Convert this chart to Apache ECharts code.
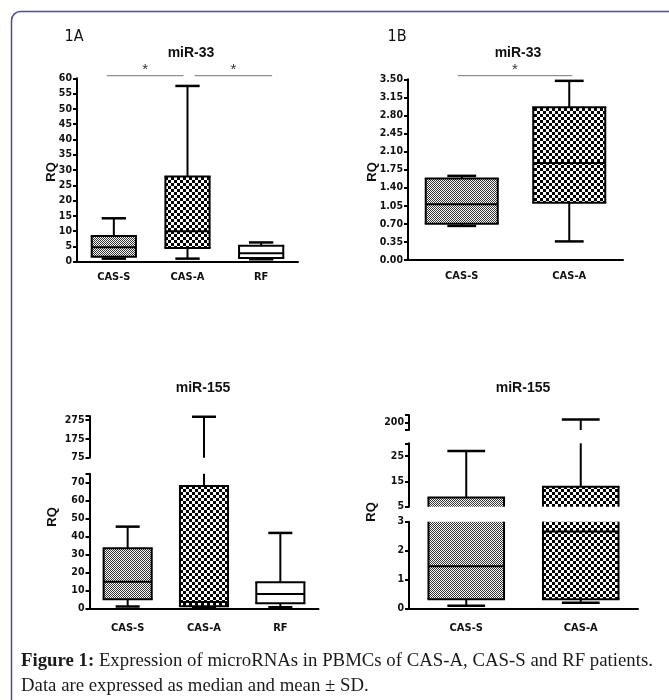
<!DOCTYPE html>
<html><head><meta charset="utf-8">
<script src="https://cdn.jsdelivr.net/npm/echarts@6/dist/echarts.min.js"></script>
<style>html,body{margin:0;padding:0;background:#fff}#c{width:669px;height:700px}</style>
</head><body><div id="c"></div>
<script>
// ---------- data ----------
const cats3 = ['CAS-S', 'CAS-A', 'RF'];
const cats2 = ['CAS-S', 'CAS-A'];
// each box: [lower whisker, Q1, median, Q3, upper whisker]
const mir33A  = [[1.0, 1.6, 4.7, 8.4, 14.2], [1.0, 4.5, 10.0, 27.9, 57.5], [0.8, 1.2, 2.8, 5.2, 6.3]];
const mir33B  = [[0.66, 0.70, 1.08, 1.58, 1.63], [0.36, 1.11, 1.88, 2.96, 3.47]];
const mir155A = [[1.0, 5.0, 14.8, 33.4, 45.5], [0.5, 1.2, 3.5, 68.2, 292], [0.6, 2.8, 8.0, 14.5, 42.0]];
const mir155B = [[0.09, 0.31, 1.46, 8.6, 27.0], [0.19, 0.31, 2.66, 12.9, 204]];
// significance bars: [category a, category b, bar level]
const sig33A = [[0, 1, 60.85], [1, 2, 60.85]];
const sig33B = [[0, 1, 3.57]];
// axis ticks / ranges
const ticks33A = [0, 5, 10, 15, 20, 25, 30, 35, 40, 45, 50, 55, 60];
const ticks33B = [0, 0.35, 0.70, 1.05, 1.40, 1.75, 2.10, 2.45, 2.80, 3.15, 3.50];
const ticks155A_low = [0, 10, 20, 30, 40, 50, 60, 70];
const ticks155A_high = [75, 175, 275];
const ticks155B_low = [0, 1, 2, 3];
const ticks155B_mid = [5, 15, 25];
const ticks155B_high = [200];
const range155A_low = [0, 75], range155A_high = [75, 296];
const range155B_low = [0, 3], range155B_mid = [5, 30], range155B_high = [190, 210];

// ---------- styles ----------
function makePattern(size, cell, dark) {
  const c = document.createElement('canvas');
  c.width = size; c.height = size;
  const g = c.getContext('2d');
  g.fillStyle = '#fff'; g.fillRect(0, 0, size, size);
  g.fillStyle = dark;
  g.fillRect(0, 0, cell, cell);
  g.fillRect(cell, cell, cell, cell);
  return { image: c, repeat: 'repeat' };
}
const fills = [makePattern(2, 1, '#333'), makePattern(6, 3, '#000'), '#fff'];
const NARROW = "'Liberation Sans Narrow','Arial Narrow','DejaVu Sans Condensed',sans-serif";
const SANS = "'Liberation Sans',Arial,sans-serif";
const SERIF = "'Liberation Serif','Times New Roman',serif";

function boxRenderer(range, boxRatio, capRatio) {
  const smin = range[0], smax = range[1];
  return function (params, api) {
    const cat = api.value(0);
    const lo = api.value(1), q1 = api.value(2), md = api.value(3), q3 = api.value(4), hi = api.value(5);
    const cl = v => Math.max(smin, Math.min(smax, v));
    const cx = api.coord([cat, smin])[0];
    const Y = v => api.coord([cat, v])[1];
    const band = api.size([1, 0])[0];
    const bw = band * boxRatio, cw = bw * capRatio;
    const ln = (x1, y1, x2, y2, w) => ({ type: 'line', shape: { x1, y1, x2, y2 }, style: { stroke: '#000', lineWidth: w || 2 } });
    const ch = [];
    if (hi > smin && q3 < smax) {
      ch.push(ln(cx, Y(cl(q3)), cx, Y(cl(hi))));
      if (hi <= smax) ch.push(ln(cx - cw / 2, Y(hi), cx + cw / 2, Y(hi), 2.5));
    }
    if (lo < smax && q1 > smin) {
      ch.push(ln(cx, Y(cl(q1)), cx, Y(cl(lo))));
      if (lo >= smin) ch.push(ln(cx - cw / 2, Y(lo), cx + cw / 2, Y(lo), 2.5));
    }
    if (q3 > smin && q1 < smax) {
      const yb = Y(cl(q1)), yt = Y(cl(q3));
      const x0 = cx - bw / 2, x1 = cx + bw / 2;
      ch.push({ type: 'rect', shape: { x: x0, y: yt, width: bw, height: yb - yt }, style: { fill: fills[cat] } });
      ch.push(ln(x0, yb, x0, yt));
      ch.push(ln(x1, yb, x1, yt));
      if (q3 <= smax) ch.push(ln(x0 - 1, yt, x1 + 1, yt));
      if (q1 >= smin) ch.push(ln(x0 - 1, yb, x1 + 1, yb));
    }
    if (md >= smin && md <= smax) ch.push(ln(cx - bw / 2, Y(md), cx + bw / 2, Y(md)));
    return { type: 'group', children: ch };
  };
}

function sigRenderer(insets) {
  return function (params, api) {
    const a = api.value(0), b = api.value(1), lv = api.value(2);
    const ins = insets[params.dataIndex];
    const p1 = api.coord([a, lv]), p2 = api.coord([b, lv]);
    const x1 = p1[0] + ins[0], x2 = p2[0] + ins[1];
    return { type: 'group', children: [
      { type: 'line', shape: { x1, y1: p1[1], x2, y2: p1[1] }, style: { stroke: '#777', lineWidth: 1 } },
      { type: 'text', x: (x1 + x2) / 2, y: p1[1] - 6,
        style: { text: '*', fill: '#333', font: '15px ' + SANS, align: 'center', verticalAlign: 'middle', textAlign: 'center', textVerticalAlign: 'middle' } }
    ] };
  };
}

const grids = [
  { left: 77, top: 78.3, width: 221, height: 183.4 },
  { left: 408, top: 79.3, width: 215, height: 180.7 },
  { left: 89.5, top: 416, width: 229, height: 41.7 },
  { left: 89.5, top: 473.7, width: 229, height: 134.6 },
  { left: 409, top: 415, width: 229, height: 15 },
  { left: 409, top: 443.3, width: 229, height: 63.4 },
  { left: 409, top: 521.7, width: 229, height: 86.6 }
];

const labelStyle = { color: '#111', fontFamily: NARROW, fontWeight: 'bold', fontSize: 11 };
function xAx(i, cats, show, margin) {
  return { gridIndex: i, type: 'category', data: cats, show: show,
    axisLine: { lineStyle: { color: '#000', width: 2 } }, axisTick: { show: false },
    axisLabel: Object.assign({ margin: margin }, labelStyle) };
}
function yAx(i, range, ticks, capTicks, fmt) {
  return { gridIndex: i, type: 'value', min: range[0], max: range[1],
    axisLine: { show: true, lineStyle: { color: '#000', width: 2 } },
    axisTick: { show: true, length: 4, lineStyle: { color: '#000', width: 2 }, customValues: ticks.concat(capTicks || []) },
    axisLabel: Object.assign({ margin: 5, customValues: ticks, formatter: fmt || (v => String(v)) }, labelStyle, { fontSize: 10.5 }),
    splitLine: { show: false } };
}

const xAxis = [
  xAx(0, cats3, true, 10), xAx(1, cats2, true, 11),
  xAx(2, cats3, false, 0), xAx(3, cats3, true, 14),
  xAx(4, cats2, false, 0), xAx(5, cats2, false, 0), xAx(6, cats2, true, 14)
];
const yAxis = [
  yAx(0, [0, 60], ticks33A),
  yAx(1, [0, 3.5], ticks33B, [], v => v.toFixed(2)),
  yAx(2, range155A_high, ticks155A_high, [range155A_high[1]]),
  yAx(3, range155A_low, ticks155A_low, [range155A_low[1]]),
  yAx(4, range155B_high, ticks155B_high, range155B_high),
  yAx(5, range155B_mid, ticks155B_mid, [range155B_mid[1]]),
  yAx(6, range155B_low, ticks155B_low)
];

function boxSeries(i, data, range, boxRatio, capRatio) {
  return { type: 'custom', xAxisIndex: i, yAxisIndex: i, silent: true, clip: false,
    data: data.map((d, k) => [k].concat(d)), encode: { x: 0, y: [1, 2, 3, 4, 5] },
    renderItem: boxRenderer(range, boxRatio, capRatio) };
}
function sigSeries(i, data, insets) {
  return { type: 'custom', xAxisIndex: i, yAxisIndex: i, silent: true, clip: false,
    data: data, encode: { x: [0, 1], y: 2 }, renderItem: sigRenderer(insets) };
}

const series = [
  boxSeries(0, mir33A, [0, 60], 0.6, 0.55),
  sigSeries(0, sig33A, [[-7, -4], [7, 11]]),
  boxSeries(1, mir33B, [0, 3.5], 0.67, 0.4),
  sigSeries(1, sig33B, [[-4, 3]]),
  boxSeries(2, mir155A, range155A_high, 0.63, 0.5),
  boxSeries(3, mir155A, range155A_low, 0.63, 0.5),
  boxSeries(4, mir155B, range155B_high, 0.66, 0.5),
  boxSeries(5, mir155B, range155B_mid, 0.66, 0.5),
  boxSeries(6, mir155B, range155B_low, 0.66, 0.5)
];

function txt(text, x, y, font, opts) {
  return Object.assign({ type: 'text', x: x, y: y, silent: true,
    style: { text: text, font: font, fill: '#111', align: 'center', verticalAlign: 'middle', textAlign: 'center', textVerticalAlign: 'middle' } }, opts || {});
}
const graphic = [
  { type: 'rect', silent: true, shape: { x: 11.5, y: 11.5, width: 720, height: 740, r: 9 }, style: { fill: 'none', stroke: '#4e4e94', lineWidth: 1.5 } },
  txt('1A', 74, 37, "16px " + NARROW),
  txt('1B', 397, 37, "16px " + NARROW),
  txt('miR-33', 191, 53, "bold 14px " + SANS),
  txt('miR-33', 518, 53, "bold 14px " + SANS),
  txt('miR-155', 203, 388, "bold 14px " + SANS),
  txt('miR-155', 523, 388, "bold 14px " + SANS),
  txt('RQ', 51, 172, "bold 13px " + SANS, { rotation: Math.PI / 2 }),
  txt('RQ', 372, 172, "bold 13px " + SANS, { rotation: Math.PI / 2 }),
  txt('RQ', 52, 517, "bold 13px " + SANS, { rotation: Math.PI / 2 }),
  txt('RQ', 371, 512, "bold 13px " + SANS, { rotation: Math.PI / 2 }),
  { type: 'text', x: 21, y: 661, silent: true,
    style: { text: '{b|Figure 1:} Expression of microRNAs in PBMCs of CAS-A, CAS-S and RF patients.',
      font: '18.8px ' + SERIF, fill: '#1a1a1a', align: 'left', verticalAlign: 'middle', textAlign: 'left', textVerticalAlign: 'middle',
      rich: { b: { fontWeight: 'bold', fontFamily: SERIF, fontSize: 18.8, fill: '#1a1a1a' } } } },
  { type: 'text', x: 21, y: 686, silent: true,
    style: { text: 'Data are expressed as median and mean \u00b1 SD.', font: '18.8px ' + SERIF, fill: '#1a1a1a',
      align: 'left', verticalAlign: 'middle', textAlign: 'left', textVerticalAlign: 'middle' } }
];

const chart = echarts.init(document.getElementById('c'), null, { renderer: 'canvas' });
chart.setOption({ animation: false, backgroundColor: '#fff', grid: grids, xAxis: xAxis, yAxis: yAxis, series: series, graphic: graphic });
</script></body></html>
